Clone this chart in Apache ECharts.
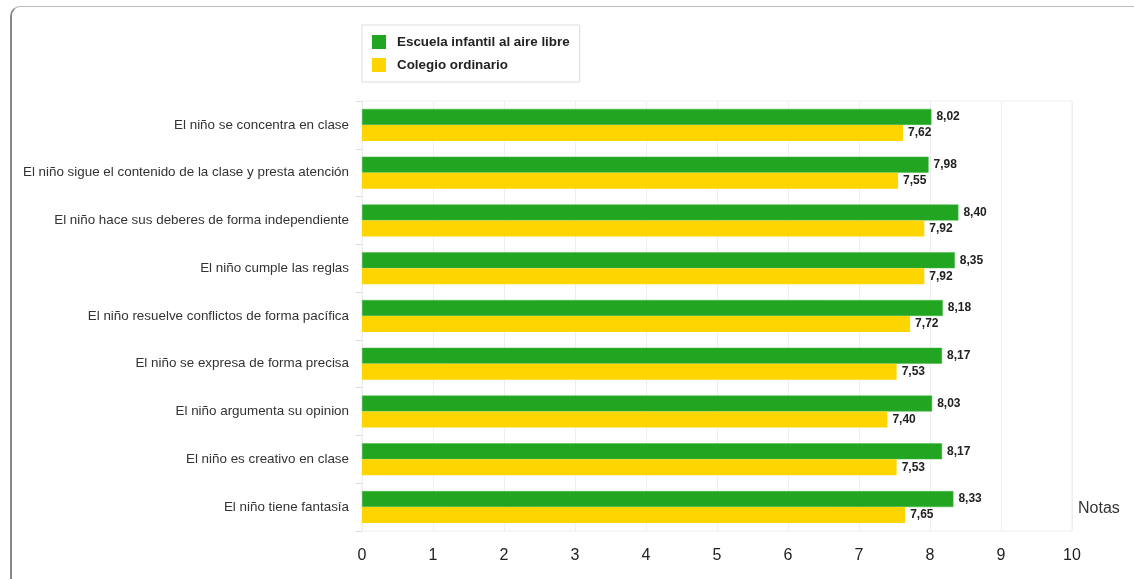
<!DOCTYPE html>
<html>
<head>
<meta charset="utf-8">
<script src="https://cdn.jsdelivr.net/npm/echarts@6/dist/echarts.min.js"></script>
<style>
html,body{margin:0;padding:0;background:#fff;}
#frame{position:absolute;left:0;top:0;width:1134px;height:579px;overflow:hidden;background:#fff;}
#edge{position:absolute;left:10px;top:6px;width:1200px;height:600px;border-left:2px solid #888;border-top:1px solid #bbb;border-top-left-radius:10px;}
#chart{position:absolute;left:0;top:0;width:1134px;height:579px;}
</style>
</head>
<body>
<div id="frame"><div id="edge"></div><div id="chart"></div></div>
<script>
const categories = [
  "El niño se concentra en clase",
  "El niño sigue el contenido de la clase y presta atención",
  "El niño hace sus deberes de forma independiente",
  "El niño cumple las reglas",
  "El niño resuelve conflictos de forma pacífica",
  "El niño se expresa de forma precisa",
  "El niño argumenta su opinion",
  "El niño es creativo en clase",
  "El niño tiene fantasía"
];
const seriesNames = ["Escuela infantil al aire libre", "Colegio ordinario"];
const outdoorValues = [8.02, 7.98, 8.40, 8.35, 8.18, 8.17, 8.03, 8.17, 8.33];
const ordinaryValues = [7.62, 7.55, 7.92, 7.92, 7.72, 7.53, 7.40, 7.53, 7.65];
const xTicks = [0,1,2,3,4,5,6,7,8,9,10];
const axisName = "Notas";

const chart = echarts.init(document.getElementById('chart'));
const fmt = p => p.value.toFixed(2).replace('.', ',');
const labelStyle = {show:true, position:'right', distance:5, formatter:fmt, fontSize:12, fontWeight:'bold', color:'#222', fontFamily:'Liberation Sans, Arial, sans-serif'};
chart.setOption({
  animation:false,
  textStyle:{fontFamily:'Liberation Sans, Arial, sans-serif'},
  legend:{
    orient:'vertical', left:362, top:25, padding:[10,10,10,10], itemGap:9,
    itemWidth:14, itemHeight:14, icon:'rect',
    itemStyle:{borderWidth:0},
    borderColor:'#ddd', borderWidth:1, backgroundColor:'#fff',
    textStyle:{fontSize:13.4, fontWeight:'bold', color:'#222', padding:[0,0,0,6]},
    data:seriesNames
  },
  grid:{left:362, right:62, top:101, bottom:48, show:true, borderColor:'#eee', borderWidth:1, containLabel:false},
  xAxis:{
    type:'value', min:xTicks[0], max:xTicks[xTicks.length-1], interval:1,
    axisLine:{show:false}, axisTick:{show:false},
    splitLine:{show:true, lineStyle:{color:'#eee', width:1}},
    axisLabel:{fontSize:16, color:'#222', margin:17}
  },
  yAxis:{
    type:'category', data:categories, inverse:true,
    axisLine:{show:false},
    axisTick:{show:true, length:6, lineStyle:{color:'#ddd'}},
    axisLabel:{fontSize:13.4, color:'#333', margin:13}
  },
  graphic:[{type:'text', left:1078, top:501, style:{text:axisName, fontSize:16, fill:'#333', fontFamily:'Liberation Sans, Arial, sans-serif'}}],
  series:[
    {name:seriesNames[0], type:'bar', data:outdoorValues, barGap:'0%', barCategoryGap:'33%',
     itemStyle:{color:'#22a621', borderColor:'#44b844', borderWidth:0.5}, label:labelStyle},
    {name:seriesNames[1], type:'bar', data:ordinaryValues, barGap:'0%', barCategoryGap:'33%',
     itemStyle:{color:'#ffd500'}, label:labelStyle}
  ]
});
</script>
</body>
</html>
